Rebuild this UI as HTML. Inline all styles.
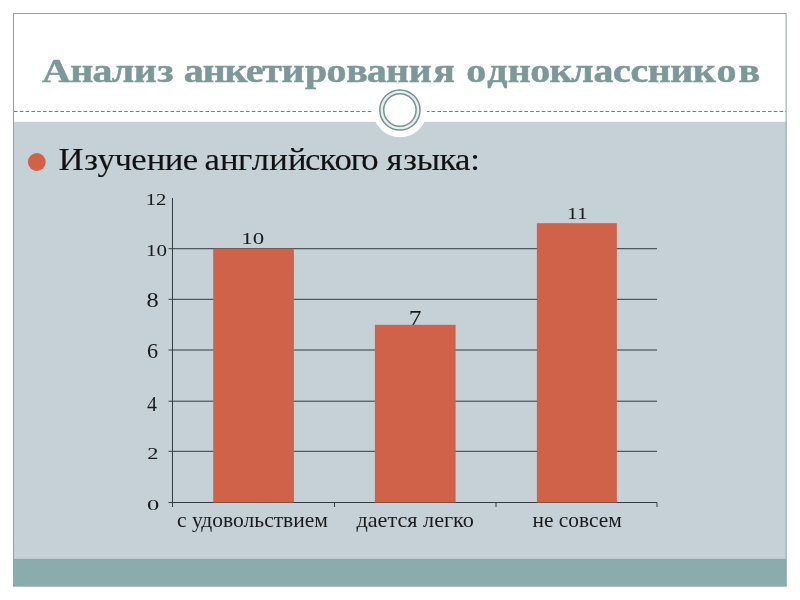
<!DOCTYPE html>
<html lang="ru">
<head>
<meta charset="utf-8">
<title>Анализ анкетирования одноклассников</title>
<style>
html,body{margin:0;padding:0;background:#fff;width:800px;height:600px;overflow:hidden}
svg{display:block}
.ser{font-family:"Liberation Serif","DejaVu Serif",serif}
.ttl{font-family:"Liberation Serif","DejaVu Serif",serif;font-weight:bold;font-size:33px;fill:#7d9899;stroke:#7d9899;stroke-width:0.5px}
.sub{font-family:"Liberation Serif","DejaVu Serif",serif;font-size:31px;fill:#111;stroke:#111;stroke-width:0.12px}
.ax{font-family:"Liberation Serif","DejaVu Serif",serif;fill:#1a1a1a}
</style>
</head>
<body>
<svg width="800" height="600" viewBox="0 0 800 600">
  <!-- slide frame -->
  <rect x="0" y="0" width="800" height="600" fill="#ffffff"/>
  <rect x="13" y="121.8" width="773.5" height="437.2" fill="#c5d1d7"/>
  <rect x="13" y="558.8" width="773.5" height="27.6" fill="#8cabad"/>
  <rect x="13.5" y="13.5" width="772.6" height="572.5" fill="none" stroke="#8fa5a6" stroke-width="1"/>
  <!-- dashed rule + ring -->
  <line x1="14" y1="111.5" x2="786" y2="111.5" stroke="#6f8384" stroke-width="1" stroke-dasharray="3.6 2.2"/>
  <circle cx="400" cy="110" r="27.2" fill="#ffffff"/>
  <circle cx="399.9" cy="110" r="20.1" fill="#e6eeee" stroke="#789293" stroke-width="1.5"/>
  <circle cx="399.9" cy="110" r="16.2" fill="#ffffff" stroke="#789293" stroke-width="1.5"/>
  <!-- title -->
  <text class="ttl" transform="scale(1.21,1)" y="82.2" x="34.77 58.16 76.42 92.45 110.55 130.18">Анализ</text>
  <text class="ttl" transform="scale(1.21,1)" y="82.2" x="151.83 167.66 185.64 203.03 216.79 232.7 252.12 269.93 286.13 303.11 319.07 337.74 358.16">анкетирования</text>
  <text class="ttl" transform="scale(1.21,1)" y="82.2" x="385.35 402.78 419.73 438.28 454.23 472.12 490.43 506.71 521.17 535.43 553.98 572.54 592.2 610.43">одноклассников</text>
  <!-- bullet -->
  <circle cx="36.8" cy="162" r="8.9" fill="#d0624a"/>
  <text class="sub" transform="scale(1.12,1)" y="170.5" x="52.19 75.2 87.09 102.24 117.22 130.94 147.14 163.2">Изучение</text>
  <text class="sub" transform="scale(1.12,1)" y="170.5" x="182.52 196.34 212.47 224.71 240.45 257.14 272.36 285.34 298.59 313.14 322.56">английского</text>
  <text class="sub" transform="scale(1.12,1)" y="170.5" x="345.2 359.98 372.15 392.48 406.27 419.81">языка:</text>
  <!-- chart -->
  <g stroke="#333b3e" stroke-width="1" fill="none">
    <line x1="168.5" y1="248.7" x2="657" y2="248.7"/>
    <line x1="168.5" y1="299.3" x2="657" y2="299.3"/>
    <line x1="168.5" y1="350" x2="657" y2="350"/>
    <line x1="168.5" y1="401.2" x2="657" y2="401.2"/>
    <line x1="168.5" y1="451.3" x2="657" y2="451.3"/>
    <line x1="168.5" y1="502.5" x2="657" y2="502.5"/>
    <line x1="172.5" y1="198" x2="172.5" y2="507"/>
    <line x1="334.5" y1="502.5" x2="334.5" y2="507"/>
    <line x1="496" y1="502.5" x2="496" y2="507"/>
    <line x1="657" y1="502.5" x2="657" y2="507"/>
  </g>
  <!-- data labels (drawn before bars so the 7's tail is clipped) -->
  <g class="ax">
    <text x="241.2" y="243.9" font-size="16.3" textLength="22.9" lengthAdjust="spacingAndGlyphs">10</text>
    <text x="408.7" y="325.6" font-size="23" textLength="12.7" lengthAdjust="spacingAndGlyphs">7</text>
    <text x="567.1" y="218.8" font-size="16.3" textLength="20.5" lengthAdjust="spacingAndGlyphs">11</text>
  </g>
  <g fill="#d0624a">
    <rect x="213.2" y="248.7" width="80.7" height="253.8"/>
    <rect x="374.9" y="324.8" width="80.7" height="177.7"/>
    <rect x="536.9" y="223.2" width="80" height="279.3"/>
  </g>
  <!-- axis labels -->
  <g class="ax">
    <text x="145.8" y="204.8" font-size="16.3" textLength="20.6" lengthAdjust="spacingAndGlyphs">12</text>
    <text x="145.9" y="255.6" font-size="16.3" textLength="21" lengthAdjust="spacingAndGlyphs">10</text>
    <text x="146.6" y="306.8" font-size="21.8" textLength="12.2" lengthAdjust="spacingAndGlyphs">8</text>
    <text x="146.9" y="357.6" font-size="21.8" textLength="11.1" lengthAdjust="spacingAndGlyphs">6</text>
    <text x="147" y="411" font-size="20" textLength="10" lengthAdjust="spacingAndGlyphs">4</text>
    <text x="147.2" y="459.4" font-size="16.8" textLength="11.2" lengthAdjust="spacingAndGlyphs">2</text>
    <text x="147.1" y="509.7" font-size="15" textLength="12.3" lengthAdjust="spacingAndGlyphs">0</text>
  </g>
  <g class="ax" font-size="21.5" fill="#222">
    <text x="177" y="526.9" textLength="151" lengthAdjust="spacingAndGlyphs">с удовольствием</text>
    <text x="356.4" y="526.9" textLength="117.5" lengthAdjust="spacingAndGlyphs">дается легко</text>
    <text x="532.6" y="526.9" textLength="89.2" lengthAdjust="spacingAndGlyphs">не совсем</text>
  </g>
</svg>
</body>
</html>
